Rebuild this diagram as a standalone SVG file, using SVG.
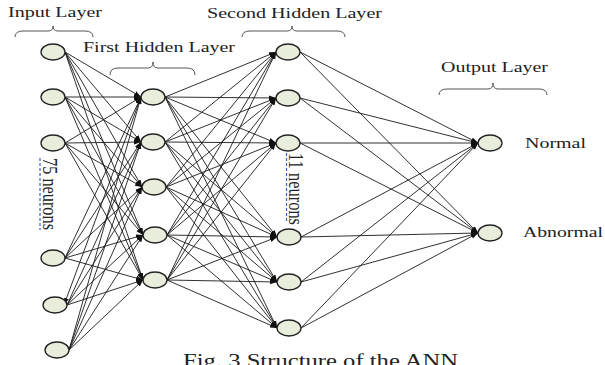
<svg xmlns="http://www.w3.org/2000/svg" width="605" height="365" viewBox="0 0 605 365">
  <defs>
    <marker id="arr" markerUnits="userSpaceOnUse" markerWidth="8" markerHeight="6" refX="7" refY="2.5" orient="auto">
      <path d="M0,0 L7,2.5 L0,5 z" fill="#111"/>
    </marker>
    <style>
      .lbl { font-family: "Liberation Serif", "Times New Roman", serif; font-size: 15px; fill: #222; }
      .cap { font-family: "Liberation Serif", "Times New Roman", serif; font-size: 18px; fill: #222; }
      .brace { fill: none; stroke: #555; stroke-width: 1; }
      .node ellipse { fill: #E9EDDC; stroke: #222; stroke-width: 1.3; }
      #connectors line { stroke: #1a1a1a; stroke-width: 0.9; marker-end: url(#arr); }
      .spell { stroke: #3b63b0; stroke-width: 1.2; stroke-dasharray: 3 2; }
    </style>
  </defs>
  <rect width="605" height="365" fill="#fff"/>

  <!-- layer titles -->
  <text class="lbl" x="8" y="17" textLength="94" lengthAdjust="spacingAndGlyphs">Input Layer</text>
  <text class="lbl" x="83" y="52" textLength="152" lengthAdjust="spacingAndGlyphs">First Hidden Layer</text>
  <text class="lbl" x="207" y="18" textLength="175" lengthAdjust="spacingAndGlyphs">Second Hidden Layer</text>
  <text class="lbl" x="441" y="72" textLength="107" lengthAdjust="spacingAndGlyphs">Output Layer</text>
  <text class="lbl" x="525" y="148" textLength="61" lengthAdjust="spacingAndGlyphs">Normal</text>
  <text class="lbl" x="523" y="237" textLength="80" lengthAdjust="spacingAndGlyphs">Abnormal</text>

  <!-- braces -->
  <path class="brace" d="M15,37 Q15,31 23,31 L48,31 Q53,31 53,26 Q53,31 58,31 L85,31 Q93,31 93,37"/>
  <path class="brace" d="M110,75 Q110,68 118,68 L148,68 Q153,68 153,62 Q153,68 158,68 L187,68 Q195,68 195,75"/>
  <path class="brace" d="M242,37 Q242,31 250,31 L287,31 Q292,31 292,26 Q292,31 297,31 L337,31 Q345,31 345,37"/>
  <path class="brace" d="M439,95 Q439,89 447,89 L488,89 Q493,89 493,83 Q493,89 498,89 L539,89 Q547,89 547,95"/>

  <!-- connectors -->
  <g id="connectors">
    <!-- input -> first hidden -->
    <line x1="65" y1="52" x2="141" y2="97"/>
    <line x1="65" y1="52" x2="141" y2="142"/>
    <line x1="65" y1="52" x2="142" y2="187"/>
    <line x1="65" y1="52" x2="143" y2="235"/>
    <line x1="65" y1="52" x2="143" y2="280"/>
    <line x1="65" y1="97" x2="141" y2="97"/>
    <line x1="65" y1="97" x2="141" y2="142"/>
    <line x1="65" y1="97" x2="142" y2="187"/>
    <line x1="65" y1="97" x2="143" y2="235"/>
    <line x1="65" y1="97" x2="143" y2="280"/>
    <line x1="65" y1="143" x2="141" y2="97"/>
    <line x1="65" y1="143" x2="141" y2="142"/>
    <line x1="65" y1="143" x2="142" y2="187"/>
    <line x1="65" y1="143" x2="143" y2="235"/>
    <line x1="65" y1="143" x2="143" y2="280"/>
    <line x1="65" y1="258" x2="141" y2="97"/>
    <line x1="65" y1="258" x2="141" y2="142"/>
    <line x1="65" y1="258" x2="142" y2="187"/>
    <line x1="65" y1="258" x2="143" y2="235"/>
    <line x1="65" y1="258" x2="143" y2="280"/>
    <line x1="141" y1="97" x2="64" y2="305"/>
    <line x1="67" y1="305" x2="141" y2="142"/>
    <line x1="67" y1="305" x2="142" y2="187"/>
    <line x1="67" y1="305" x2="143" y2="235"/>
    <line x1="67" y1="305" x2="143" y2="280"/>
    <line x1="69" y1="350" x2="141" y2="97"/>
    <line x1="69" y1="350" x2="141" y2="142"/>
    <line x1="69" y1="350" x2="142" y2="187"/>
    <line x1="69" y1="350" x2="143" y2="235"/>
    <line x1="69" y1="350" x2="143" y2="280"/>
    <!-- first hidden -> second hidden -->
    <line x1="165" y1="97" x2="276" y2="52"/>
    <line x1="165" y1="97" x2="276" y2="98"/>
    <line x1="165" y1="97" x2="276" y2="143"/>
    <line x1="165" y1="97" x2="277" y2="237"/>
    <line x1="165" y1="97" x2="277" y2="282"/>
    <line x1="165" y1="97" x2="277" y2="328"/>
    <line x1="165" y1="142" x2="276" y2="52"/>
    <line x1="165" y1="142" x2="276" y2="98"/>
    <line x1="165" y1="142" x2="276" y2="143"/>
    <line x1="165" y1="142" x2="277" y2="237"/>
    <line x1="165" y1="142" x2="277" y2="282"/>
    <line x1="165" y1="142" x2="277" y2="328"/>
    <line x1="166" y1="187" x2="276" y2="52"/>
    <line x1="166" y1="187" x2="276" y2="98"/>
    <line x1="166" y1="187" x2="276" y2="143"/>
    <line x1="166" y1="187" x2="277" y2="237"/>
    <line x1="166" y1="187" x2="277" y2="282"/>
    <line x1="166" y1="187" x2="277" y2="328"/>
    <line x1="167" y1="235" x2="276" y2="52"/>
    <line x1="167" y1="235" x2="276" y2="98"/>
    <line x1="167" y1="235" x2="276" y2="143"/>
    <line x1="167" y1="235" x2="277" y2="237"/>
    <line x1="167" y1="235" x2="277" y2="282"/>
    <line x1="167" y1="235" x2="277" y2="328"/>
    <line x1="167" y1="280" x2="276" y2="52"/>
    <line x1="167" y1="280" x2="276" y2="98"/>
    <line x1="167" y1="280" x2="276" y2="143"/>
    <line x1="167" y1="280" x2="277" y2="237"/>
    <line x1="167" y1="280" x2="277" y2="282"/>
    <line x1="167" y1="280" x2="277" y2="328"/>
    <!-- second hidden -> output -->
    <line x1="300" y1="52" x2="478" y2="143"/>
    <line x1="300" y1="52" x2="478" y2="233"/>
    <line x1="300" y1="98" x2="478" y2="143"/>
    <line x1="300" y1="98" x2="478" y2="233"/>
    <line x1="300" y1="143" x2="478" y2="143"/>
    <line x1="300" y1="143" x2="478" y2="233"/>
    <line x1="301" y1="237" x2="478" y2="143"/>
    <line x1="301" y1="237" x2="478" y2="233"/>
    <line x1="301" y1="282" x2="478" y2="143"/>
    <line x1="301" y1="282" x2="478" y2="233"/>
    <line x1="301" y1="328" x2="478" y2="143"/>
    <line x1="301" y1="328" x2="478" y2="233"/>
  </g>

  <!-- input layer -->
  <g id="in1" class="node"><ellipse cx="53" cy="52" rx="12" ry="8"/></g>
  <g id="in2" class="node"><ellipse cx="53" cy="97" rx="12" ry="8"/></g>
  <g id="in3" class="node"><ellipse cx="53" cy="143" rx="12" ry="8"/></g>
  <g id="in4" class="node"><ellipse cx="53" cy="258" rx="12" ry="8"/></g>
  <g id="in5" class="node"><ellipse cx="55" cy="305" rx="12" ry="8"/></g>
  <g id="in6" class="node"><ellipse cx="57" cy="350" rx="12" ry="8"/></g>

  <!-- first hidden layer -->
  <g id="h1a" class="node"><ellipse cx="153" cy="97" rx="12" ry="8"/></g>
  <g id="h1b" class="node"><ellipse cx="153" cy="142" rx="12" ry="8"/></g>
  <g id="h1c" class="node"><ellipse cx="154" cy="187" rx="12" ry="8"/></g>
  <g id="h1d" class="node"><ellipse cx="155" cy="235" rx="12" ry="8"/></g>
  <g id="h1e" class="node"><ellipse cx="155" cy="280" rx="12" ry="8"/></g>

  <!-- second hidden layer -->
  <g id="h2a" class="node"><ellipse cx="288" cy="52" rx="12" ry="8"/></g>
  <g id="h2b" class="node"><ellipse cx="288" cy="98" rx="12" ry="8"/></g>
  <g id="h2c" class="node"><ellipse cx="288" cy="143" rx="12" ry="8"/></g>
  <g id="h2d" class="node"><ellipse cx="289" cy="237" rx="12" ry="8"/></g>
  <g id="h2e" class="node"><ellipse cx="289" cy="282" rx="12" ry="8"/></g>
  <g id="h2f" class="node"><ellipse cx="289" cy="328" rx="12" ry="8"/></g>

  <!-- output layer -->
  <g id="outNormal" class="node"><ellipse cx="490" cy="143" rx="12" ry="8"/></g>
  <g id="outAbnormal" class="node"><ellipse cx="490" cy="233" rx="12" ry="8"/></g>

  <!-- vertical neuron counts -->
  <line class="spell" x1="40" y1="158" x2="40" y2="230"/>
  <text class="lbl" style="font-size:16px" transform="translate(43,158) scale(1.333,1) rotate(90)" textLength="72" lengthAdjust="spacingAndGlyphs">75 neurons</text>
  <line class="spell" x1="286.5" y1="153" x2="286.5" y2="222"/>
  <text class="lbl" style="font-size:16px" transform="translate(289,153) scale(1.333,1) rotate(90)" textLength="72" lengthAdjust="spacingAndGlyphs">11 neurons</text>

  <!-- caption -->
  <text class="cap" x="183" y="367" textLength="275" lengthAdjust="spacingAndGlyphs">Fig. 3 Structure of the ANN</text>
</svg>
